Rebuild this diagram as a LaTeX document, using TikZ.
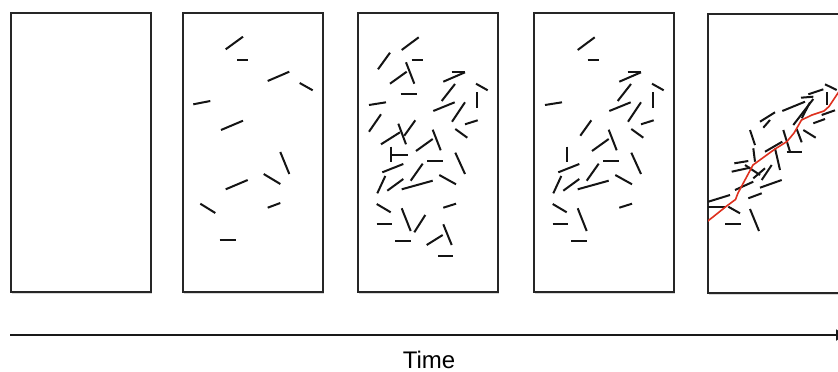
\documentclass[tikz,border=0pt]{standalone}
\usepackage{fontspec}
\setmainfont{Liberation Sans}
\usetikzlibrary{arrows.meta,shadows}
\begin{document}
\begin{tikzpicture}[x=1pt,y=-1pt,
  panel/.style={draw=black!85, line width=1.6pt, fill=white,
    minimum width=140pt, minimum height=279pt, inner sep=0pt, anchor=north west,
    drop shadow={shadow xshift=1pt, shadow yshift=-1.8pt, opacity=0.3}},
  stick/.style={line width=2pt, black!92},
  track/.style={line width=1.6pt, draw={rgb,255:red,222;green,48;blue,30}, line join=round},
  axis/.style={line width=1.8pt, black!90, -{Triangle[length=10pt,width=11pt]}},
  label/.style={font=\fontsize{24}{28}\selectfont, anchor=base, inner sep=0pt}]
\clip (0,0) rectangle (838,372);
\fill[white] (0,0) rectangle (838,372);

% the five snapshots
\node[panel] (p1) at (10,12) {};
\node[panel] (p2) at (182,12) {};
\node[panel] (p3) at (357,12) {};
\node[panel] (p4) at (533,12) {};
\node[panel] (p5) at (707,13) {};

% snapshot 2: a few scattered rods
\foreach \xa/\ya/\xb/\yb in {
  225.7/49.3/243/36.7, 237/59.7/247.7/59.7, 267.7/81/289.3/71.7,
  299.7/83/312.7/90.3, 193.3/104.3/210.3/101, 221/130/243/120.7,
  280.3/152/289.3/174, 263.7/174/280.3/184, 225.7/189.3/247.7/180,
  200.3/203.7/215.3/213, 267.7/207.7/280.3/203, 219.7/240.3/235.7/240.3}
  \draw[stick] (\xa,\ya) -- (\xb,\yb);

% rods present in snapshots 3 and 4
\def\sharedrods{
  401.7/50/418.7/37.3, 411.7/60.3/422.7/60.3,
  443.3/81.7/465/72.3, 451.7/72.3/465/72.3,
  476/83.7/487.7/90.3, 477.3/92.3/477.3/108.3,
  369/105/386/102.3, 441.7/101/455/84,
  433.3/111/454.7/102.3, 452/121.7/465/102.3,
  465/124.3/477.7/120.3, 404.3/135.7/415.3/120.3,
  455.3/129/467.3/137.7, 432.7/129.7/440.7/150.3,
  416/151/432.7/139, 390.7/146.7/390.7/162.3,
  427.3/161/442.7/161, 455.3/152.7/465/174,
  382.3/172.3/403.3/164, 377.3/193.3/385.3/176,
  387.3/190.7/403.3/179, 410.7/180.7/422.7/163.7,
  401.7/189.3/432.7/180.7, 439.3/175/456/184.3,
  376.7/204/390.7/212.3, 443.3/207.7/456/203.7,
  376.7/223.7/392/223.7, 401.7/208.3/410.7/231,
  395.3/240.7/411.3/240.7}

% snapshot 3: the crowded state
\foreach \xa/\ya/\xb/\yb in \sharedrods
  \draw[stick] (\xa,\ya) -- (\xb,\yb);
\foreach \xa/\ya/\xb/\yb in {
  378/69.3/390/52.7, 406/62.3/414.3/83.7, 390/83.7/406.7/71.7,
  400.7/93.7/416.7/93.7, 369/131.7/381/114.3, 381/144.3/400/132.3,
  398.3/123.7/406/144.3, 390.7/155/408.3/155, 414.3/232.3/425.3/215,
  426.7/245/442.7/235, 443.3/224.3/451.7/245, 438.3/255.7/453.3/255.7}
  \draw[stick] (\xa,\ya) -- (\xb,\yb);

% snapshot 4: some rods have gone
\begin{scope}[xshift=176pt]
\foreach \xa/\ya/\xb/\yb in \sharedrods
  \draw[stick] (\xa,\ya) -- (\xb,\yb);
\end{scope}

% snapshot 5: rods gathered along a path
\begin{scope}
\clip (708,14) rectangle (838,300);
\foreach \xa/\ya/\xb/\yb in {
  825/84.3/836.7/90, 826.7/92.3/826.7/105, 808.3/94.3/823.3/89.3,
  782.3/111/805/101.7, 801/97.7/813.3/96.7, 793.3/125/813.3/99,
  801.7/118.3/810/102.3, 813.3/123.3/825/119, 821.7/115/835/110.3,
  803.3/130/815.7/137.7, 796.7/129/801.7/142.3, 760/121.7/775/112.3,
  763.3/127.7/770/120, 750/130/755/145, 753.3/148.3/755/161.7,
  765/151.7/782.3/141.7, 775/148.3/780/170, 783.3/130/790/151.7,
  786.7/151.7/801.7/151.7, 734.3/163.3/748.3/161, 731.7/171.7/750/167.7,
  745/165/760/175, 753.3/178.3/765/168.3, 761.7/180/771.7/165,
  760/187.7/781.7/180, 735/190/753.3/181.7, 748.3/198.3/761.7/193.3,
  708.3/201.7/730/195, 708.3/206.7/725/206.7, 728.3/206.7/740/213.3,
  725/224.3/741/224.3, 750/209/759/231}
  \draw[stick] (\xa,\ya) -- (\xb,\yb);
\draw[track] (707,221.7) -- (726.7,206) -- (735.5,199.5) -- (738,193)
  -- (753,165) -- (775,149) -- (787,141.5) -- (794,133) -- (801.5,120)
  -- (812,115) -- (824,111) -- (829,106.5) -- (840,90);
\end{scope}

% time axis
\coordinate (t0) at (10,335);
\coordinate (t1) at (846,335);
\draw[axis] (t0) -- (t1);
\node[label] (time) at (429,368.5) {Time};
\end{tikzpicture}
\end{document}
